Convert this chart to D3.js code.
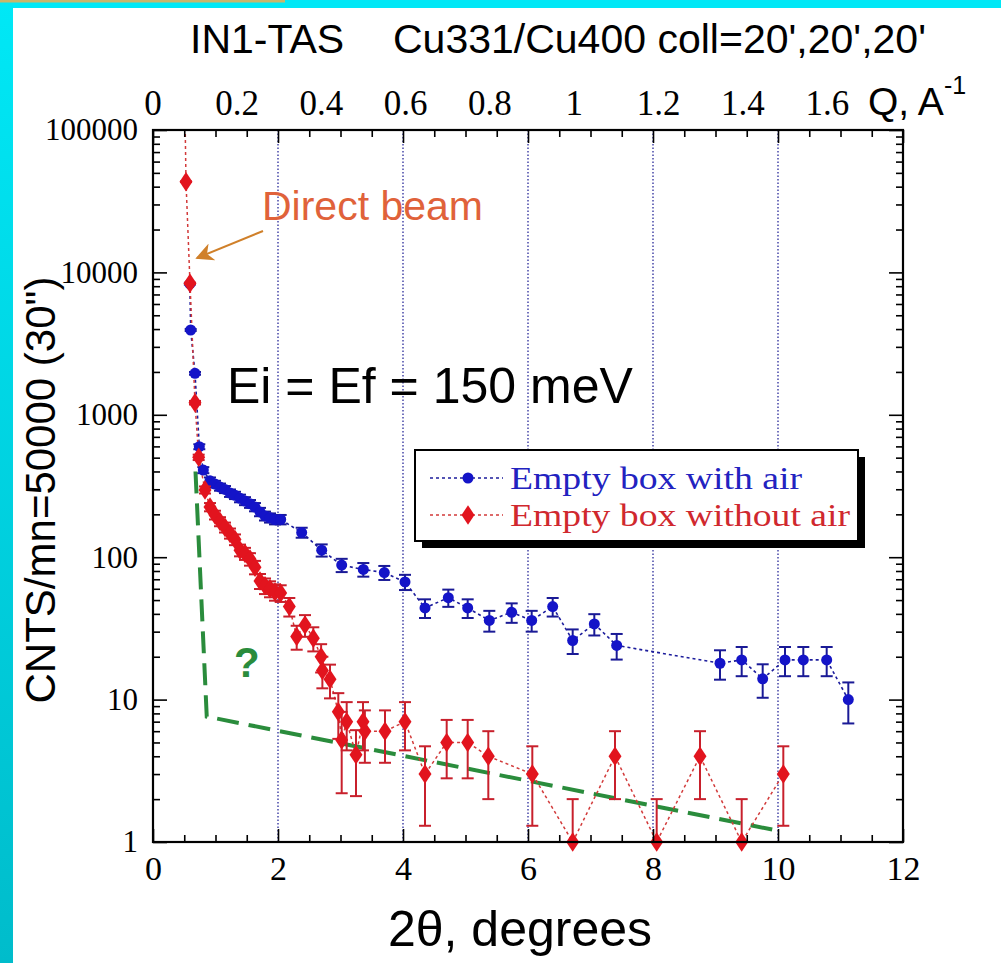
<!DOCTYPE html>
<html>
<head>
<meta charset="utf-8">
<script src="https://cdn.jsdelivr.net/npm/d3@7"></script>
<style>
  html, body { margin: 0; padding: 0; background: #fff; }
  svg { display: block; }
  .serif { font-family: "Liberation Serif", "Times New Roman", serif; }
  .sans { font-family: "Liberation Sans", Arial, Helvetica, sans-serif; }
</style>
</head>
<body>
<div id="chart"></div>
<script>
// "Empty box with air" (blue circles)
var blueX = [0.59, 0.603, 0.672, 0.741, 0.805, 0.912, 0.992, 1.072, 1.152, 1.232, 1.312, 1.392, 1.472, 1.552, 1.632,
             1.712, 1.792, 1.872, 1.952, 2.043, 2.379, 2.699, 3.019, 3.365, 3.701, 4.032, 4.352, 4.725, 5.035, 5.381,
             5.739, 6.059, 6.395, 6.715, 7.061, 7.419, 9.072, 9.419, 9.755, 10.112, 10.405, 10.779, 11.125];
var blueY = [8300, 3940, 1955, 597, 409, 344, 326, 311, 299, 282, 272, 259, 248, 237, 225,
             208, 195, 189, 184, 184, 149, 112, 88, 82, 78, 67, 44, 52, 44, 36,
             41, 36, 45, 26, 34, 24, 18, 19, 14, 19, 19, 19, 10];
var blueErr = [91, 63, 44, 24, 20, 19, 18, 18, 17, 17, 16, 16, 16, 15, 15,
               14, 14, 14, 14, 14, 12, 11, 9.4, 9, 8.8, 8.2, 6.6, 7.2, 6.6, 6,
               6.4, 6, 6.7, 5.1, 5.8, 4.9, 4.2, 4.4, 3.7, 4.4, 4.4, 4.4, 3.2];

// "Empty box without air" (red diamonds)
var redX = [0.5, 0.528, 0.592, 0.672, 0.731, 0.832, 0.912, 0.992, 1.072, 1.152, 1.232, 1.312, 1.392, 1.472, 1.552,
            1.632, 1.712, 1.792, 1.872, 1.952, 2.043, 2.181, 2.299, 2.432, 2.565, 2.69, 2.71, 2.832, 2.965, 3.019,
            3.099, 3.248, 3.36, 3.39, 3.712, 4.032, 4.352, 4.699, 5.035, 5.365, 6.069, 6.715, 7.392, 8.059, 8.752,
            9.419, 10.085];
var redY = [300000, 43350, 8380, 1216, 503, 297, 225, 198, 178, 162, 147, 133, 112, 106, 97,
            85, 68, 63, 60, 57, 56, 45, 27.7, 33.4, 27, 20, 16, 13.9, 8.2, 5.2,
            7, 4.1, 7, 6, 6, 7, 3, 5, 5, 4, 3, 1, 4, 1, 4,
            1, 3];
var redErr = [0, 208, 92, 35, 22, 17, 15, 14, 13, 13, 12, 11.5, 10.6, 10.3, 9.8,
              9.2, 8.2, 7.9, 7.7, 7.5, 7.5, 6.7, 5.3, 5.8, 5.2, 4.5, 4, 3.7, 2.9, 3,
              2.6, 2, 2.6, 2.4, 2.4, 2.6, 1.7, 2.2, 2.2, 2, 1.7, 1, 2, 1, 2,
              1, 1.7];

// green guess line
var greenX = [0.68, 0.86, 10.0];
var greenY = [400, 7.6, 1.2];

// axes
var xTicks = [0, 2, 4, 6, 8, 10, 12];
var gridX = [2, 4, 6, 8, 10];
var yTicks = [1, 10, 100, 1000, 10000, 100000];
var qTicks = [0, 0.2, 0.4, 0.6, 0.8, 1, 1.2, 1.4, 1.6];
var Ei = 150; // meV

var W = 1001, H = 963;
var svg = d3.select('#chart').append('svg').attr('width', W).attr('height', H);

var x = d3.scaleLinear().domain([0, 12]).range([153, 903]),
    y = d3.scaleLog().domain([1, 100000]).range([842, 130]);

// cyan frame
var defs = svg.append('defs');
var grad = defs.append('linearGradient').attr('id', 'cyan').attr('x1', 0).attr('y1', 0).attr('x2', 0).attr('y2', 1);
grad.append('stop').attr('offset', '0%').attr('stop-color', '#00e8f6');
grad.append('stop').attr('offset', '100%').attr('stop-color', '#00bccb');
svg.append('rect').attr('x', 0).attr('y', 0).attr('width', W).attr('height', 8).attr('fill', '#00e8f6');
svg.append('rect').attr('x', 0).attr('y', 0).attr('width', 13).attr('height', H).attr('fill', 'url(#cyan)');
svg.append('rect').attr('x', 0).attr('y', 0).attr('width', 285).attr('height', 2.5).attr('fill', '#c9b66a');

defs.append('clipPath').attr('id', 'plot').append('rect')
  .attr('x', 153).attr('y', 130).attr('width', 750).attr('height', 712);

// dotted verticals
svg.append('g').selectAll('line').data(gridX).enter().append('line')
  .attr('x1', x).attr('x2', x).attr('y1', 130).attr('y2', 842)
  .attr('stroke', '#2a2a9a').attr('stroke-width', 1.3).attr('stroke-dasharray', '1.5,2');

var plot = svg.append('g').attr('clip-path', 'url(#plot)');

function pts(xs, ys) { return xs.map(function(d, i) { return [d, ys[i]]; }); }
var line = d3.line().x(function(d) { return x(d[0]); }).y(function(d) { return y(d[1]); });

// green dashed line
plot.append('path').attr('d', line(pts(greenX, greenY)))
  .attr('fill', 'none').attr('stroke', '#2a8c3c').attr('stroke-width', 4)
  .attr('stroke-dasharray', '22,10');

plot.append('path').attr('d', line(pts(blueX, blueY)))
  .attr('fill', 'none').attr('stroke', '#1c1c9c').attr('stroke-width', 1.6).attr('stroke-dasharray', '3,3');
plot.append('path').attr('d', line(pts(redX, redY)))
  .attr('fill', 'none').attr('stroke', '#d23a3a').attr('stroke-width', 1.5).attr('stroke-dasharray', '3,3');

function errBars(g, xs, ys, es, color) {
  xs.forEach(function(d, i) {
    if (!es[i] || ys[i] > 100000) return;
    var lo = Math.max(ys[i] - es[i], 1), hi = ys[i] + es[i];
    var cx = x(d);
    g.append('line').attr('x1', cx).attr('x2', cx).attr('y1', y(lo)).attr('y2', y(hi))
      .attr('stroke', color).attr('stroke-width', 2);
    g.append('line').attr('x1', cx - 6).attr('x2', cx + 6).attr('y1', y(hi)).attr('y2', y(hi))
      .attr('stroke', color).attr('stroke-width', 2);
    if (ys[i] - es[i] >= 1)
      g.append('line').attr('x1', cx - 6).attr('x2', cx + 6).attr('y1', y(lo)).attr('y2', y(lo))
        .attr('stroke', color).attr('stroke-width', 2);
  });
}

var gB = svg.append('g'), gR = svg.append('g');
errBars(gB, blueX, blueY, blueErr, '#1a1a96');
gB.selectAll('circle').data(pts(blueX, blueY)).enter().append('circle')
  .attr('cx', function(d) { return x(d[0]); }).attr('cy', function(d) { return y(d[1]); })
  .attr('r', 5.5).attr('fill', '#1414c8');

errBars(gR, redX, redY, redErr, '#c8202c');
var diamond = d3.symbol().type(d3.symbolDiamond).size(110);
gR.selectAll('path.m').data(pts(redX, redY).filter(function(d) { return d[1] <= 100000; }))
  .enter().append('path').attr('class', 'm')
  .attr('transform', function(d) { return 'translate(' + x(d[0]) + ',' + y(d[1]) + ') scale(1.15,1)'; })
  .attr('d', diamond).attr('fill', '#e2141e');

// axes
function styleAxis(g) {
  g.select('.domain').remove();
  g.selectAll('.tick line').attr('stroke', '#000').attr('stroke-width', 1.6);
}
var minorX = d3.range(0, 12.01, 0.5).filter(function(d) { return d % 2 !== 0; });
var minorY = [];
yTicks.slice(0, -1).forEach(function(t) { for (var k = 2; k < 10; k++) minorY.push(t * k); });

svg.append('g').attr('transform', 'translate(0,842)')
  .call(d3.axisBottom(x).tickValues(xTicks).tickSize(-13).tickPadding(14).tickFormat(d3.format('d')))
  .call(styleAxis)
  .selectAll('text').attr('class', 'serif').attr('font-size', 34).attr('fill', '#000');
svg.append('g').attr('transform', 'translate(0,842)')
  .call(d3.axisBottom(x).tickValues(minorX).tickSize(-7).tickFormat('')).call(styleAxis);
svg.append('g').attr('transform', 'translate(0,130)')
  .call(d3.axisTop(x).tickValues(xTicks).tickSize(-13).tickFormat('')).call(styleAxis);
svg.append('g').attr('transform', 'translate(0,130)')
  .call(d3.axisTop(x).tickValues(minorX).tickSize(-7).tickFormat('')).call(styleAxis);

svg.append('g').attr('transform', 'translate(153,0)')
  .call(d3.axisLeft(y).tickValues(yTicks).tickSize(-14).tickPadding(15).tickFormat(d3.format('d')))
  .call(styleAxis)
  .selectAll('text').attr('class', 'serif').attr('font-size', 31).attr('fill', '#000');
svg.append('g').attr('transform', 'translate(153,0)')
  .call(d3.axisLeft(y).tickValues(minorY).tickSize(-7).tickFormat('')).call(styleAxis);
svg.append('g').attr('transform', 'translate(903,0)')
  .call(d3.axisRight(y).tickValues(yTicks).tickSize(-14).tickFormat('')).call(styleAxis);
svg.append('g').attr('transform', 'translate(903,0)')
  .call(d3.axisRight(y).tickValues(minorY).tickSize(-7).tickFormat('')).call(styleAxis);

svg.append('rect').attr('x', 153).attr('y', 130).attr('width', 750).attr('height', 712)
  .attr('fill', 'none').attr('stroke', '#000').attr('stroke-width', 2.2);

// Q scale on top: 2theta = 2 asin(Q / 2k), k from Ei
var k = 2 * Math.PI / (9.045 / Math.sqrt(Ei));
function qToTwoTheta(q) { return 2 * Math.asin(q / (2 * k)) * 180 / Math.PI; }
svg.append('g').selectAll('text').data(qTicks).enter().append('text')
  .attr('class', 'serif').attr('font-size', 35).attr('text-anchor', 'middle')
  .attr('x', function(d) { return x(qToTwoTheta(d)); }).attr('y', 115)
  .text(function(d) { return d; });
var qt = svg.append('text').attr('class', 'sans').attr('font-size', 39).attr('x', 868).attr('y', 115).text('Q, A');
qt.append('tspan').attr('font-size', 25).attr('dy', -21).text('-1');

// titles
svg.append('text').attr('class', 'sans').attr('font-size', 41).attr('x', 190).attr('y', 53).text('IN1-TAS');
svg.append('text').attr('class', 'sans').attr('font-size', 41).attr('x', 393).attr('y', 53)
  .text("Cu331/Cu400 coll=20',20',20'");
svg.append('text').attr('class', 'sans').attr('font-size', 50).attr('text-anchor', 'middle')
  .attr('x', 520).attr('y', 946).text('2\u03b8, degrees');
svg.append('text').attr('class', 'sans').attr('font-size', 42).attr('text-anchor', 'middle')
  .attr('transform', 'translate(55,490) rotate(-90)').text('CNTS/mn=50000 (30")');

// annotations
svg.append('text').attr('class', 'sans').attr('font-size', 50).attr('x', 227).attr('y', 403)
  .text('Ei = Ef = ' + Ei + ' meV');
svg.append('text').attr('class', 'sans').attr('font-size', 41).attr('fill', '#e0623a')
  .attr('x', 262).attr('y', 220).text('Direct beam');
svg.append('text').attr('class', 'sans').attr('font-size', 42).attr('font-weight', 'bold')
  .attr('fill', '#2a8c3c').attr('x', 234).attr('y', 677).text('?');

defs.append('marker').attr('id', 'arr').attr('viewBox', '0 0 10 10').attr('refX', 9).attr('refY', 5)
  .attr('markerWidth', 9).attr('markerHeight', 9).attr('orient', 'auto')
  .append('path').attr('d', 'M0,0 L10,5 L0,10 L3,5 Z').attr('fill', '#d0802a');
svg.append('line').attr('x1', 263).attr('y1', 231).attr('x2', 197).attr('y2', 258)
  .attr('stroke', '#d0802a').attr('stroke-width', 2).attr('marker-end', 'url(#arr)');

// legend
var lg = svg.append('g').attr('transform', 'translate(415,450)');
lg.append('rect').attr('x', 7).attr('y', 7).attr('width', 443).attr('height', 91).attr('fill', '#000');
lg.append('rect').attr('width', 443).attr('height', 91).attr('fill', '#fff').attr('stroke', '#000').attr('stroke-width', 2);
var items = [
  { label: 'Empty box with air', width: 292, color: '#1414c8', text: '#2222c0', line: '#1c1c9c', sym: 'c' },
  { label: 'Empty box without air', width: 340, color: '#e2141e', text: '#d0282e', line: '#d23a3a', sym: 'd' }
];
items.forEach(function(it, i) {
  var yy = 28 + i * 37;
  lg.append('line').attr('x1', 15).attr('x2', 88).attr('y1', yy).attr('y2', yy)
    .attr('stroke', it.line).attr('stroke-width', 1.6).attr('stroke-dasharray', '3,3');
  if (it.sym === 'c') {
    lg.append('circle').attr('cx', 53).attr('cy', yy).attr('r', 5.5).attr('fill', it.color);
  } else {
    lg.append('path').attr('d', diamond).attr('transform', 'translate(53,' + yy + ') scale(1.15,1)').attr('fill', it.color);
  }
  lg.append('text').attr('class', 'serif').attr('font-size', 32).attr('fill', it.text)
    .attr('x', 95).attr('y', yy + 11)
    .attr('textLength', it.width).attr('lengthAdjust', 'spacingAndGlyphs').text(it.label);
});
</script>
</body>
</html>
